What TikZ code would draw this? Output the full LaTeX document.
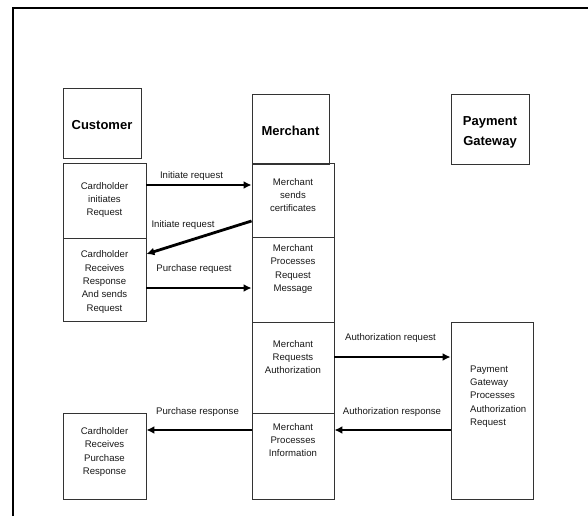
\documentclass[tikz,border=0pt]{standalone}
\usepackage{fontspec}
\setmainfont{Liberation Sans}
\usetikzlibrary{arrows.meta}
\begin{document}
\begin{tikzpicture}[x=1pt,y=-1pt,
  cell/.style={draw=black!80,line width=0.9pt,inner sep=0pt,rectangle},
  txt/.style={font=\fontsize{9.6}{13.4}\selectfont,align=center,inner sep=0pt,text=black!90},
  hdr/.style={font=\fontsize{13}{20}\selectfont\bfseries,align=center,inner sep=0pt},
  lbl/.style={font=\fontsize{9.6}{12}\selectfont,inner sep=0pt,text=black!90},
  arr/.style={line width=2.8pt,-{Latex[length=8pt,width=8pt]}}]
\useasboundingbox (0,0) rectangle (588,516);
\fill[white] (0,0) rectangle (588,516);
% frame
\draw[line width=2pt] (12.5,516) -- (12.5,8) -- (588,8);
% headers
\node[cell,minimum width=78,minimum height=70] (hC) at (102,123) {};
\node[hdr] (hCt) at (102,125) {Customer};
\node[cell,minimum width=77,minimum height=70] (hM) at (290.5,129) {};
\node[hdr] (hMt) at (290.5,131) {Merchant};
\node[cell,minimum width=78,minimum height=70] (hP) at (490,129) {};
\node[hdr] (hPt) at (490,132) {Payment\\Gateway};
% customer cells
\node[cell,minimum width=83,minimum height=75] (c1) at (104.5,200.5) {};
\node[cell,minimum width=83,minimum height=83] (c2) at (104.5,279.5) {};
\node[cell,minimum width=83,minimum height=86] (c3) at (104.5,456) {};
\node[txt] (c1t) at (104.5,200) {Cardholder\\initiates\\Request};
\node[txt] (c2t) at (104.5,282) {Cardholder\\Receives\\Response\\And sends\\Request};
\node[txt] (c3t) at (104.5,452) {Cardholder\\Receives\\Purchase\\Response};
% merchant cells
\node[cell,minimum width=82,minimum height=74] (m1) at (293,200) {};
\node[cell,minimum width=82,minimum height=85] (m2) at (293,279.5) {};
\node[cell,minimum width=82,minimum height=91] (m3) at (293,367.5) {};
\node[cell,minimum width=82,minimum height=86] (m4) at (293,456) {};
\node[txt] (m1t) at (293,195) {Merchant\\sends\\certificates};
\node[txt] (m2t) at (293,269) {Merchant\\Processes\\Request\\Message};
\node[txt] (m3t) at (293,357) {Merchant\\Requests\\Authorization};
\node[txt] (m4t) at (293,440) {Merchant\\Processes\\Information};
% payment cell
\node[cell,minimum width=82,minimum height=177] (p1) at (492,410.5) {};
\node[txt,align=left,anchor=west] (p1t) at (470,396.5) {Payment\\Gateway\\Processes\\Authorization\\Request};
% arrow heights
\coordinate (y1) at (0,185);
\coordinate (y2a) at (0,221);
\coordinate (y2b) at (0,254);
\coordinate (y3) at (0,288);
\coordinate (y4) at (0,357);
\coordinate (y5) at (0,430);
% arrows
\draw[arr] (c1.east |- y1) -- (m1.west |- y1);
\draw[arr] (m1.west |- y2a) -- (c2.east |- y2b);
\draw[arr] (c2.east |- y3) -- (m2.west |- y3);
\draw[arr] (m3.east |- y4) -- (p1.west |- y4);
\draw[arr] (p1.west |- y5) -- (m4.east |- y5);
\draw[arr] (m4.west |- y5) -- (c3.east |- y5);
% labels
\node[lbl] (l1) at (191.5,176) {Initiate request};
\node[lbl] (l2) at (183,225) {Initiate request};
\node[lbl] (l3) at (194,269) {Purchase request};
\node[lbl] (l4) at (390.5,338) {Authorization request};
\node[lbl] (l5) at (392,412) {Authorization response};
\node[lbl] (l6) at (197.5,412) {Purchase response};
\end{tikzpicture}
\end{document}
